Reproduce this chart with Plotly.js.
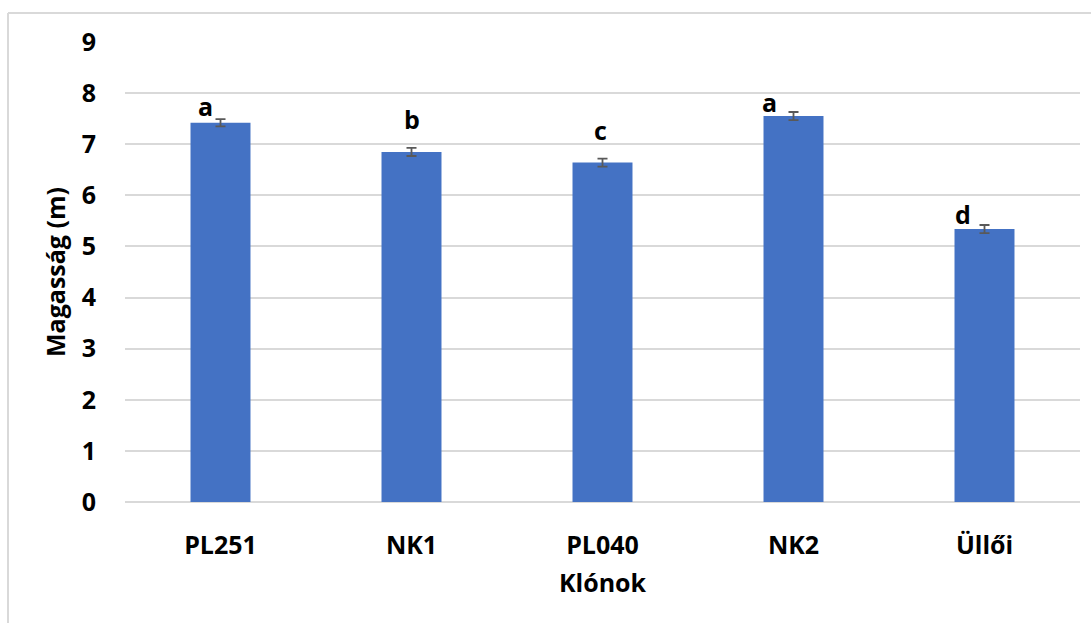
<!DOCTYPE html>
<html>
<head>
<meta charset="utf-8">
<script src="https://cdn.plot.ly/plotly-3.0.1.min.js"></script>
<style>html,body{margin:0;padding:0;background:#fff;}#chart{width:1091px;height:623px;}</style>
</head>
<body>
<div id="chart"></div>
<script>
// Data
const categories = ["PL251", "NK1", "PL040", "NK2", "Üllői"];
const heights = [7.42, 6.85, 6.64, 7.55, 5.34];
const errors = [0.07, 0.08, 0.08, 0.08, 0.08];
const groupLetters = ["a", "b", "c", "a", "d"];
const yTicks = [0, 1, 2, 3, 4, 5, 6, 7, 8, 9];

// Label placement style (pixel shifts)
const letterXShift = [-15, 0, -2, -24, -22];
const letterYShift = [-2, 14, 14, -5, -4];

const W = 1091, H = 623;
const M = {l: 125, r: 11, t: 42, b: 121};
const font = "'Open Sans', 'Noto Sans', sans-serif";

const trace = {
  type: 'bar',
  x: categories,
  y: heights,
  marker: {color: '#4472C4'},
  error_y: {type: 'data', array: errors, visible: true, color: '#595959', thickness: 1.8, width: 5},
  hoverinfo: 'x+y'
};

const annotations = categories.map((c, i) => ({
  x: c, y: heights[i], xref: 'x', yref: 'y',
  text: groupLetters[i], showarrow: false,
  yanchor: 'bottom', xanchor: 'center',
  xshift: letterXShift[i], yshift: letterYShift[i],
  font: {family: font, size: 25, color: '#000', weight: 700}
}));

const pw = W - M.l - M.r, ph = H - M.t - M.b;
const px2x = p => (p - M.l) / pw;
const py2y = p => (H - M.b - p) / ph;

const shapes = [
  {type: 'line', xref: 'paper', yref: 'paper', x0: px2x(8), x1: px2x(8), y0: py2y(13), y1: py2y(640), line: {color: '#D9D9D9', width: 2}},
  {type: 'line', xref: 'paper', yref: 'paper', x0: px2x(8), x1: px2x(1100), y0: py2y(13), y1: py2y(13), line: {color: '#D9D9D9', width: 2}}
];

const layout = {
  width: W, height: H,
  margin: M,
  paper_bgcolor: '#fff', plot_bgcolor: '#fff',
  showlegend: false,
  bargap: 0.686,
  font: {family: font, color: '#000'},
  xaxis: {
    type: 'category',
    showgrid: false, showline: false, zeroline: false,
    ticks: 'outside', ticklen: 21, tickcolor: 'rgba(0,0,0,0)',
    tickfont: {family: font, size: 25, color: '#000', weight: 700},
    title: {text: 'Klónok', font: {family: font, size: 25, color: '#000', weight: 700}, standoff: 14}
  },
  yaxis: {
    range: [0, 9],
    tickvals: yTicks,
    ticktext: yTicks.map(String),
    showgrid: true, gridcolor: '#D9D9D9', gridwidth: 1.5,
    zeroline: true, zerolinecolor: '#D9D9D9', zerolinewidth: 1.5,
    showline: false,
    ticks: 'outside', ticklen: 23, tickcolor: 'rgba(0,0,0,0)',
    tickfont: {family: font, size: 25, color: '#000', weight: 700},
    title: {text: 'Magasság (m)', font: {family: font, size: 25, color: '#000', weight: 700}, standoff: 8}
  },
  annotations: annotations,
  shapes: shapes
};

Plotly.newPlot('chart', [trace], layout, {displayModeBar: false, responsive: false});
</script>
</body>
</html>
